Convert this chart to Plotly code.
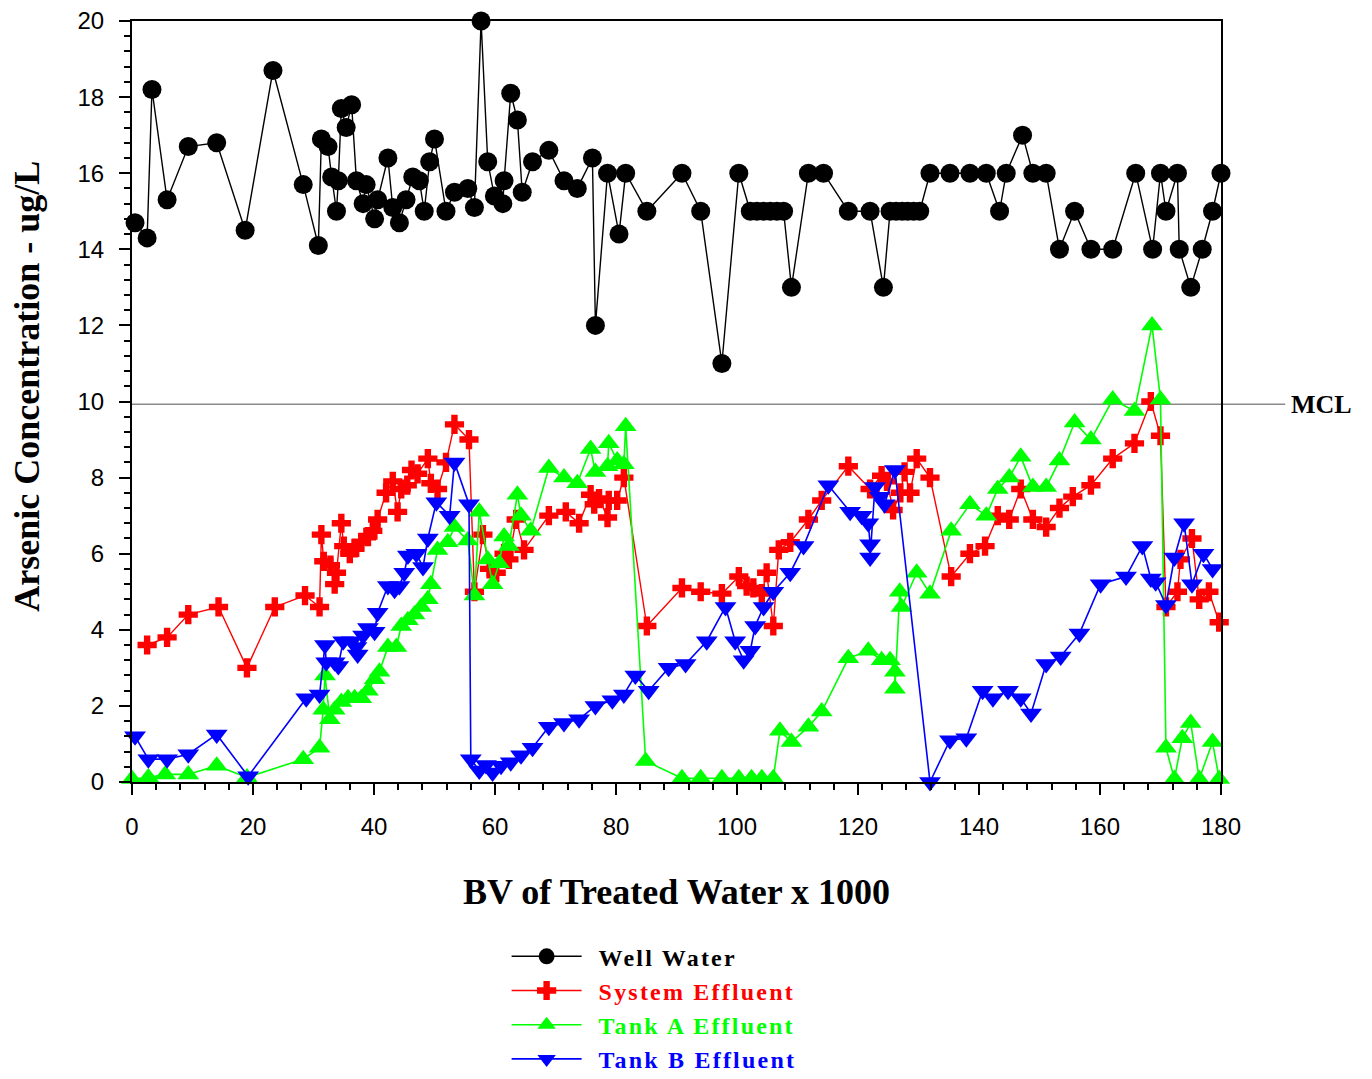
import plotly.graph_objects as go

# ---------------- data ----------------
well_x = [0.5, 2.5, 3.3, 5.8, 9.3, 14.0, 18.7, 23.3, 28.3, 30.8, 31.3, 32.4, 33.0, 33.8, 34.1,
          34.6, 35.4, 36.3, 37.1, 38.2, 38.7, 40.1, 40.6, 42.3, 43.1, 44.2, 45.3, 46.4, 47.5,
          48.3, 49.2, 50.0, 51.9, 53.3, 55.5, 56.6, 57.7, 58.8, 59.9, 61.3, 61.5, 62.6, 63.7,
          64.5, 66.2, 68.9, 71.4, 73.6, 76.1, 76.6, 78.6, 80.5, 81.6, 85.1, 90.9, 94.0, 97.5,
          100.3, 102.2, 103.3, 104.4, 105.5, 106.6, 107.7, 109.0, 111.8, 114.3, 118.4, 122.0,
          124.2, 125.3, 126.3, 127.3, 128.2, 129.2, 130.2, 131.9, 135.2, 138.5, 141.2, 143.4,
          144.5, 147.2, 148.9, 151.1, 153.3, 155.8, 158.5, 162.1, 165.9, 168.7, 170.0, 170.9,
          172.8, 173.1, 175.0, 176.9, 178.6, 180.0]
well_y = [14.7, 14.3, 18.2, 15.3, 16.7, 16.8, 14.5, 18.7, 15.7, 14.1, 16.9, 16.7, 15.9, 15.0, 15.8,
          17.7, 17.2, 17.8, 15.8, 15.2, 15.7, 14.8, 15.3, 16.4, 15.1, 14.7, 15.3, 15.9, 15.8,
          15.0, 16.3, 16.9, 15.0, 15.5, 15.6, 15.1, 20.0, 16.3, 15.4, 15.2, 15.8, 18.1, 17.4,
          15.5, 16.3, 16.6, 15.8, 15.6, 16.4, 12.0, 16.0, 14.4, 16.0, 15.0, 16.0, 15.0, 11.0,
          16.0, 15.0, 15.0, 15.0, 15.0, 15.0, 15.0, 13.0, 16.0, 16.0, 15.0, 15.0,
          13.0, 15.0, 15.0, 15.0, 15.0, 15.0, 15.0, 16.0, 16.0, 16.0, 16.0, 15.0,
          16.0, 17.0, 16.0, 16.0, 14.0, 15.0, 14.0, 14.0, 16.0, 14.0, 16.0, 15.0,
          16.0, 14.0, 13.0, 14.0, 15.0, 16.0]

sys_x = [2.5, 5.8, 9.3, 14.3, 19.0, 23.6, 28.6, 31.0, 31.3, 31.7, 32.8, 33.5, 33.8, 34.6, 35.0,
         36.0, 36.8, 37.9, 39.0, 39.8, 40.6, 42.0, 43.1, 43.9, 44.5, 45.5, 46.2, 47.2, 48.9,
         49.4, 50.5, 51.9, 53.3, 55.7, 56.6, 58.0, 59.1, 60.2, 61.5, 62.3, 63.5, 64.8, 68.9,
         71.7, 73.9, 75.8, 76.4, 77.2, 78.6, 78.8, 80.2, 81.3, 85.1, 90.9, 94.0, 97.5, 100.3,
         101.6, 102.7, 104.1, 104.9, 106.0, 106.9, 108.8, 111.8, 114.0, 118.4, 122.0, 123.9,
         124.8, 125.8, 127.0, 127.7, 128.6, 129.7, 131.9, 135.4, 138.5, 141.0, 143.1, 145.0,
         146.9, 148.9, 151.1, 153.3, 155.5, 158.5, 162.1, 165.7, 168.4, 170.0, 170.9, 172.8,
         173.3, 175.2, 176.4, 178.0, 179.7]
sys_y = [3.6, 3.8, 4.4, 4.6, 3.0, 4.6, 4.9, 4.6, 6.5, 5.8, 5.7, 5.2, 5.5, 6.8, 6.2,
         6.0, 6.15, 6.3, 6.45, 6.6, 6.9, 7.6, 7.9, 7.1, 7.7, 7.8, 8.2, 8.1, 8.5,
         7.85, 7.7, 8.4, 9.4, 9.0, 5.0, 6.5, 5.6, 5.5, 6.0, 5.85, 6.9, 6.1, 7.0,
         7.1, 6.8, 7.55, 7.3, 7.45, 6.95, 7.4, 7.4, 8.0, 4.1, 5.1, 5.0, 4.95, 5.4,
         5.15, 5.1, 4.95, 5.5, 4.1, 6.1, 6.3, 6.9, 7.4, 8.3, 7.7, 8.05,
         7.9, 7.15, 7.6, 8.15, 7.6, 8.5, 8.0, 5.4, 6.0, 6.2, 7.0, 6.9,
         7.7, 6.9, 6.7, 7.2, 7.5, 7.8, 8.5, 8.9, 10.0, 9.1, 4.6, 5.0,
         5.85, 6.4, 4.8, 5.0, 4.2]

tank_a_x = [0.0, 2.7, 5.5, 9.3, 14.0, 19.0, 28.3, 31.0, 31.6, 31.9, 32.7, 33.5, 34.6, 35.7, 36.8,
            37.9, 39.0, 40.1, 40.9, 42.3, 43.7, 44.5, 45.6, 46.7, 47.8, 48.9, 49.4, 50.5, 52.2,
            53.3, 55.5, 56.6, 57.4, 58.8, 59.6, 60.7, 61.5, 62.3, 63.7, 64.3, 65.9, 68.9, 71.4,
            73.6, 75.8, 76.6, 78.6, 78.8, 80.2, 81.3, 81.6, 84.9, 90.9, 94.0, 97.5, 100.3, 102.4,
            104.1, 106.0, 107.1, 109.0, 111.8, 114.0, 118.4, 121.7, 123.9, 125.3, 126.1, 126.1,
            126.9, 127.2, 129.7, 131.9, 135.4, 138.5, 141.2, 143.1, 145.0, 146.9, 148.9, 151.1,
            153.3, 155.8, 158.5, 162.1, 165.7, 168.6, 170.0, 170.9, 172.3, 173.6, 175.0, 176.4,
            178.6, 179.7]
tank_a_y = [0.08, 0.12, 0.2, 0.2, 0.43, 0.12, 0.6, 0.9, 1.9, 2.8, 1.65, 1.9, 2.1, 2.2, 2.2,
            2.2, 2.4, 2.7, 2.9, 3.55, 3.55, 4.1, 4.25, 4.4, 4.6, 4.8, 5.2, 6.1, 6.3,
            6.7, 6.35, 4.9, 7.1, 5.85, 5.2, 5.75, 6.45, 6.2, 7.55, 7.0, 6.6, 8.25, 8.0,
            7.85, 8.75, 8.15, 8.3, 8.9, 8.45, 8.35, 9.35, 0.55, 0.1, 0.1, 0.1, 0.1, 0.1,
            0.1, 0.1, 1.35, 1.05, 1.45, 1.85, 3.25, 3.45, 3.2, 3.2, 2.9, 2.45,
            5.0, 4.6, 5.5, 4.95, 6.6, 7.3, 7.0, 7.7, 8.0, 8.55, 7.75, 7.75,
            8.45, 9.45, 9.0, 10.05, 9.75, 12.0, 10.05, 0.9, 0.08, 1.15, 1.55, 0.08,
            1.05, 0.08]

tank_b_x = [0.5, 2.7, 5.8, 9.3, 14.0, 19.2, 28.8, 31.0, 31.9, 32.1, 33.5, 34.1, 34.9, 36.3, 37.1,
            37.3, 38.2, 39.0, 40.1, 40.6, 42.3, 43.4, 44.2, 45.0, 45.6, 47.0, 48.1, 48.9, 50.3,
            52.5, 53.3, 55.7, 56.0, 57.4, 58.5, 59.6, 61.0, 62.6, 64.3, 66.2, 68.9, 71.4, 73.9,
            76.6, 79.4, 81.3, 83.2, 85.4, 88.7, 91.5, 95.0, 98.1, 99.7, 101.1, 102.2, 103.0,
            104.4, 106.0, 108.8, 111.0, 115.1, 118.7, 120.6, 121.7, 122.0, 122.0, 122.8, 123.6,
            124.4, 126.1, 131.9, 135.2, 137.9, 140.6, 142.3, 144.8, 146.9, 148.6, 151.1, 153.5,
            156.6, 160.1, 164.3, 167.0, 168.4, 169.2, 170.9, 172.3, 173.9, 175.2, 177.1, 178.6]
tank_b_y = [1.2, 0.6, 0.6, 0.73, 1.25, 0.15, 2.2, 2.3, 3.6, 3.15, 3.15, 3.05, 3.7, 3.7, 3.55,
            3.35, 3.85, 4.05, 3.95, 4.45, 5.15, 5.05, 5.15, 5.5, 5.95, 6.0, 5.65, 6.4, 7.35,
            7.0, 8.4, 7.3, 0.6, 0.3, 0.45, 0.25, 0.43, 0.52, 0.7, 0.9, 1.45, 1.55, 1.65,
            2.0, 2.15, 2.3, 2.8, 2.4, 3.0, 3.1, 3.7, 4.6, 3.7, 3.2, 3.45, 4.1,
            4.6, 5.0, 5.5, 6.2, 7.8, 7.1, 7.0, 6.8, 6.25, 5.9, 7.75, 7.5,
            7.3, 8.2, 0.0, 1.1, 1.15, 2.4, 2.2, 2.4, 2.2, 1.8, 3.1, 3.3,
            3.9, 5.2, 5.4, 6.2, 5.35, 5.25, 4.65, 5.9, 6.8, 5.2, 6.0, 5.6]

series_names = ["Well Water", "System Effluent", "Tank A Effluent", "Tank B Effluent"]
mcl_value = 9.93
x_range = [0, 180]
y_range = [0, 20]

# ---------------- figure ----------------
SERIF = "Liberation Serif, Times New Roman, serif"
SANS = "Liberation Sans, Arial, sans-serif"

styles = [
    dict(color="#000000", symbol="circle", size=19, lw=1.4),
    dict(color="#FF0000", symbol="cross", size=16, lw=1.4),
    dict(color="#00FF00", symbol="triangle-up", size=19, lw=1.6),
    dict(color="#0000FF", symbol="triangle-down", size=19, lw=1.6),
]
data = [(well_x, well_y), (sys_x, sys_y), (tank_a_x, tank_a_y), (tank_b_x, tank_b_y)]

fig = go.Figure()
for (xs, ys), name, st in zip(data, series_names, styles):
    assert len(xs) == len(ys), name
    fig.add_trace(go.Scatter(
        x=xs, y=ys, mode="lines+markers",
        name='\u2002<span style="color:%s;letter-spacing:2.2px">%s</span>' % (st["color"], name),
        line=dict(color=st["color"], width=st["lw"]),
        marker=dict(symbol=st["symbol"], size=st["size"], color=st["color"],
                    line=dict(width=0)),
        cliponaxis=False,
    ))

fig.add_shape(type="line", xref="paper", yref="y", x0=0, x1=1.059, y0=mcl_value, y1=mcl_value,
              line=dict(color="#8a8a8a", width=1.5), layer="below")
fig.add_annotation(text="<b>MCL</b>", xref="paper", yref="y", x=1.062, y=mcl_value,
                   xanchor="left", yanchor="middle", showarrow=False,
                   font=dict(family=SERIF, size=26, color="black"))
fig.add_annotation(text="<b>BV of Treated Water x 1000</b>", xref="paper", yref="paper",
                   x=0.5, y=-0.145, xanchor="center", yanchor="middle", showarrow=False,
                   font=dict(family=SERIF, size=36, color="black"))
fig.add_annotation(text="<b>Arsenic Concentration - ug/L</b>", xref="paper", yref="paper",
                   x=-0.096, y=0.52, xanchor="center", yanchor="middle", showarrow=False,
                   textangle=-90, font=dict(family=SERIF, size=36, color="black"))

axis_common = dict(showline=True, linecolor="black", linewidth=2, mirror=True,
                   ticks="outside", tickcolor="black", tickwidth=2, ticklen=11,
                   showgrid=False, zeroline=False, ticklabeloverflow="allow",
                   tickfont=dict(family=SANS, size=24, color="black"))
fig.update_xaxes(range=x_range, dtick=20, tick0=0, ticklabelstandoff=11,
                 minor=dict(dtick=4, ticks="outside", ticklen=6, tickwidth=2, tickcolor="black"),
                 **axis_common)
fig.update_yaxes(range=y_range, dtick=2, tick0=0, ticklabelstandoff=10,
                 minor=dict(dtick=0.4, ticks="outside", ticklen=6, tickwidth=2, tickcolor="black"),
                 **axis_common)

fig.update_layout(
    width=1372, height=1079,
    margin=dict(l=124, r=159, t=13, b=305, autoexpand=False),
    paper_bgcolor="white", plot_bgcolor="white",
    showlegend=True,
    legend=dict(x=0.344, y=-0.2, xanchor="left", yanchor="top",
                bgcolor="rgba(0,0,0,0)", itemwidth=70,
                font=dict(family=SERIF, size=24, color="black", weight="bold"),
                tracegroupgap=0),
)

fig.write_html("out.html")
